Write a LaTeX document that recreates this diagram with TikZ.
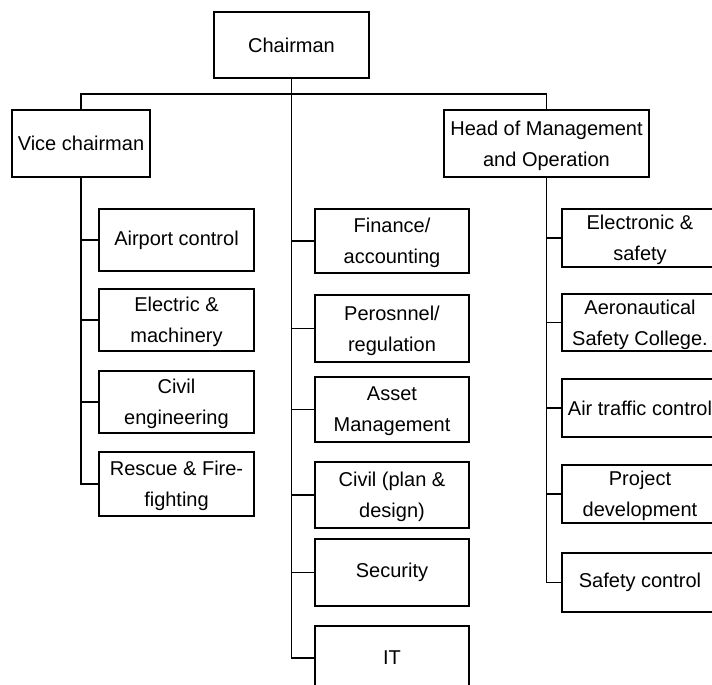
\documentclass[tikz,border=0pt]{standalone}
\usepackage{fontspec}
\setmainfont{Liberation Sans}
\usetikzlibrary{positioning}

\begin{document}
\begin{tikzpicture}[x=0.5pt, y=-0.5pt,
  box/.style={draw, line width=0.65pt, minimum width=77.5pt, minimum height=32pt, inner sep=0pt, align=center, font=\fontsize{10}{15.5}\selectfont},
  twoline/.style={box, text depth=0pt},
  link/.style={draw, line width=0.95pt}]
  \useasboundingbox (0,0) rectangle (712,685);
  \clip (0,0) rectangle (712,685);
  % top level
  \node[box, minimum height=33pt] (chair) at (291.5,45) {Chairman};
  \node[box, minimum width=69pt, minimum height=33.5pt] (vice) at (81,143.5) {Vice chairman};
  \node[twoline, minimum width=102.5pt, minimum height=33.5pt] (head) at (546.5,143.5) {Head of Management\\and Operation};
  % left column
  \node[box, minimum height=31pt] (airport) at (176.5,240) {Airport control};
  \node[twoline, minimum height=31pt] (electric) at (176.5,320) {Electric \&\\machinery};
  \node[twoline, minimum height=31pt] (civeng) at (176.5,402) {Civil\\engineering};
  \node[twoline] (rescue) at (176.5,484) {Rescue \& Fire-\\fighting};
  % middle column
  \node[twoline, minimum width=77pt] (finance) at (392,241) {Finance/\\accounting};
  \node[twoline, minimum width=77pt, minimum height=33.5pt] (personnel) at (392,328.5) {Perosnnel/\\regulation};
  \node[twoline, minimum width=77pt, minimum height=32.5pt] (asset) at (392,409.5) {Asset\\Management};
  \node[twoline, minimum width=77pt, minimum height=33pt] (civplan) at (392,495) {Civil (plan \&\\design)};
  \node[box, minimum width=77pt, minimum height=33.5pt] (security) at (392,572.5) {Security};
  \node[box, minimum width=77pt] (it) at (392,658) {IT};
  % right column
  \node[twoline, minimum width=78pt, minimum height=29pt] (elsafety) at (640,238) {Electronic \&\\safety};
  \node[twoline, minimum width=78pt, minimum height=28.5pt] (college) at (640,322.5) {Aeronautical\\Safety College.};
  \node[box, minimum width=78pt, minimum height=29pt] (traffic) at (640,408) {Air traffic control};
  \node[twoline, minimum width=78pt, minimum height=29pt] (project) at (640,494) {Project\\development};
  \node[box, minimum width=78pt, minimum height=29.5pt] (safety) at (640,582.5) {Safety control};
  % connectors
  \coordinate (bus) at (291.5,94);
  \draw[link] (vice.north) |- (bus) -| (head.north);
  \draw[link] (chair.south) |- (it.west);
  \draw[link] (vice.south) |- (rescue.west);
  \draw[link] (head.south) |- (safety.west);
  \draw[link] (vice.south |- airport.west) -- (airport.west);
  \draw[link] (vice.south |- electric.west) -- (electric.west);
  \draw[link] (vice.south |- civeng.west) -- (civeng.west);
  \draw[link] (chair.south |- finance.west) -- (finance.west);
  \draw[link] (chair.south |- personnel.west) -- (personnel.west);
  \draw[link] (chair.south |- asset.west) -- (asset.west);
  \draw[link] (chair.south |- civplan.west) -- (civplan.west);
  \draw[link] (chair.south |- security.west) -- (security.west);
  \draw[link] (head.south |- elsafety.west) -- (elsafety.west);
  \draw[link] (head.south |- college.west) -- (college.west);
  \draw[link] (head.south |- traffic.west) -- (traffic.west);
  \draw[link] (head.south |- project.west) -- (project.west);
\end{tikzpicture}
\end{document}
